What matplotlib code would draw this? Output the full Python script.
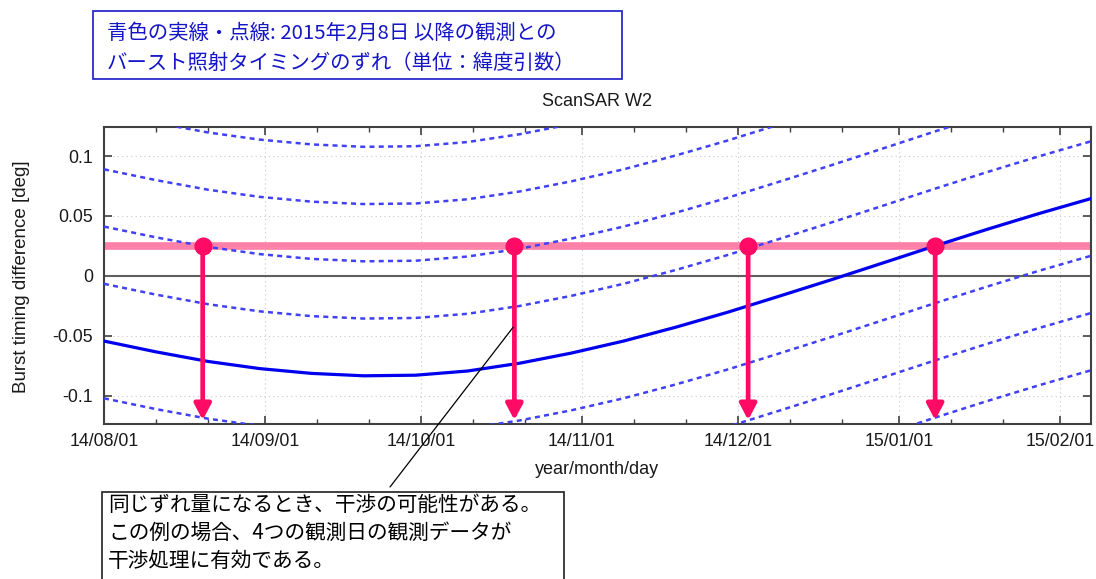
import matplotlib
matplotlib.use('Agg')
import matplotlib.pyplot as plt
import matplotlib.dates as mdates
from matplotlib.patches import Rectangle
import numpy as np
import pandas as pd

# burst timing difference against the 2015-02-08 reference, every 10 days
curve_dates = pd.to_datetime([
    '2014-08-01', '2014-08-11', '2014-08-21', '2014-08-31', '2014-09-10',
    '2014-09-20', '2014-09-30', '2014-10-10', '2014-10-20', '2014-10-30',
    '2014-11-09', '2014-11-19', '2014-11-29', '2014-12-09', '2014-12-19',
    '2014-12-29', '2015-01-08', '2015-01-18', '2015-01-28', '2015-02-07',
])
curve_diff = np.array([
    -0.0545, -0.0635, -0.0715, -0.0775, -0.0815,
    -0.0835, -0.0830, -0.0795, -0.0730, -0.0645,
    -0.0545, -0.0430, -0.0305, -0.0170, -0.0033,
    0.0108, 0.0250, 0.0388, 0.0520, 0.0645,
])
# same difference shifted by whole burst cycles (dashed)
cycle_shifts = [-0.1434, -0.0956, -0.0478, 0.0478, 0.0956, 0.1434, 0.1912]

# dates where one of the curves meets the common level
match_dates = pd.to_datetime(['2014-08-20', '2014-10-19', '2014-12-03', '2015-01-08'])
match_level = 0.025

x_ticks = pd.to_datetime(['2014-08-01', '2014-09-01', '2014-10-01', '2014-11-01',
                          '2014-12-01', '2015-01-01', '2015-02-01'])
x_labels = ['14/08/01', '14/09/01', '14/10/01', '14/11/01',
            '14/12/01', '15/01/01', '15/02/01']
y_ticks = [-0.1, -0.05, 0, 0.05, 0.1]
y_labels = ['-0.1', '-0.05', '0', '0.05', '0.1']

head_lines = ['青色の実線・点線: 2015年2月8日 以降の観測との',
              'バースト照射タイミングのずれ（単位：緯度引数）']
note_lines = ['同じずれ量になるとき、干渉の可能性がある。',
              'この例の場合、4つの観測日の観測データが',
              '干渉処理に有効である。']

jp = ['Noto Sans CJK JP', 'DejaVu Sans']
plt.rcParams['font.family'] = ['Liberation Sans', 'DejaVu Sans']

W, H = 1096, 579
fig = plt.figure(figsize=(W / 100, H / 100), dpi=100)
ax = fig.add_axes([104 / W, 1 - 424.3 / H, 987 / W, 297 / H])

pink = '#ff0a64'
ax.axhline(0, color='#606060', lw=1.5, zorder=2)
ax.axhline(match_level, color='#ff80a8', lw=5.5, zorder=2.5)

for s in cycle_shifts:
    ax.plot(curve_dates, curve_diff + s, color='#4040f5', lw=1.8,
            dashes=(2.0, 1.7), zorder=3)
ax.plot(curve_dates, curve_diff, color='#0000ee', lw=2.3, zorder=3)

for d in match_dates:
    xd = mdates.date2num(d)
    ax.annotate('', xy=(xd, -0.1205), xytext=(xd, match_level),
                arrowprops=dict(arrowstyle='-|>,head_length=0.95,head_width=0.5',
                                mutation_scale=10, lw=3.4, color=pink,
                                shrinkA=0, shrinkB=0), zorder=4)
ax.plot(match_dates, [match_level] * len(match_dates), 'o', ms=12,
        color=pink, zorder=5)

# pointer from the curve crossing down to the note box
ax.annotate('', xy=(mdates.date2num(pd.Timestamp('2014-10-18 18:00')), -0.043),
            xytext=(390, H - 487), textcoords='figure pixels',
            arrowprops=dict(arrowstyle='-', color='black', lw=0.9,
                            shrinkA=0, shrinkB=0),
            annotation_clip=False, zorder=6)

ax.set_xlim(pd.Timestamp('2014-08-01'), pd.Timestamp('2015-02-07'))
ax.set_ylim(-0.124, 0.124)
ax.set_xticks(x_ticks)
ax.set_xticklabels(x_labels)
ax.xaxis.set_minor_locator(mdates.DayLocator(bymonthday=[11, 21]))
ax.set_yticks(y_ticks)
ax.set_yticklabels(y_labels)
ax.tick_params(which='both', direction='in', top=True, right=True,
               colors='#404040', labelcolor='#1a1a1a', labelsize=12.8)
ax.tick_params(axis='x', which='major', length=5.5, width=1.2, pad=6)
ax.tick_params(axis='y', which='major', length=5.5, width=1.2, pad=8)
ax.tick_params(which='minor', length=3.5, width=1.0)
ax.grid(True, which='major', linestyle=(0, (1, 3)), color='#c8c8c8', lw=0.8)
for sp in ax.spines.values():
    sp.set_color('#404040')
    sp.set_linewidth(1.5)

fig.text(597 / W, 1 - 101 / H, 'ScanSAR W2', ha='center', va='center',
         fontsize=13, color='#1a1a1a')
fig.text(597 / W, 1 - 470 / H, 'year/month/day', ha='center', va='center',
         fontsize=13, color='#1a1a1a')
fig.text(22 / W, 1 - 277 / H, 'Burst timing difference [deg]', rotation=90,
         ha='center', va='center', fontsize=13.5, color='#1a1a1a')

# caption at the top
fig.add_artist(Rectangle((93 / W, 1 - 79 / H), 529 / W, 68 / H,
                         transform=fig.transFigure, fill=False,
                         ec='#2a2acc', lw=1.3))
for i, line in enumerate(head_lines):
    fig.text(107 / W, 1 - (33 + 30 * i) / H, line, ha='left', va='center',
             fontsize=14.7, color='#1414c8', family=jp)

# explanatory note at the bottom
fig.add_artist(Rectangle((102 / W, -0.05), 462 / W, 0.05 + 1 - 492 / H,
                         transform=fig.transFigure, fill=False,
                         ec='#202020', lw=1.2))
for i, line in enumerate(note_lines):
    fig.text(108 / W, 1 - (505 + 28 * i) / H, line, ha='left', va='center',
             fontsize=14.9, color='black', family=jp)

fig.savefig('out.png', dpi=100)
